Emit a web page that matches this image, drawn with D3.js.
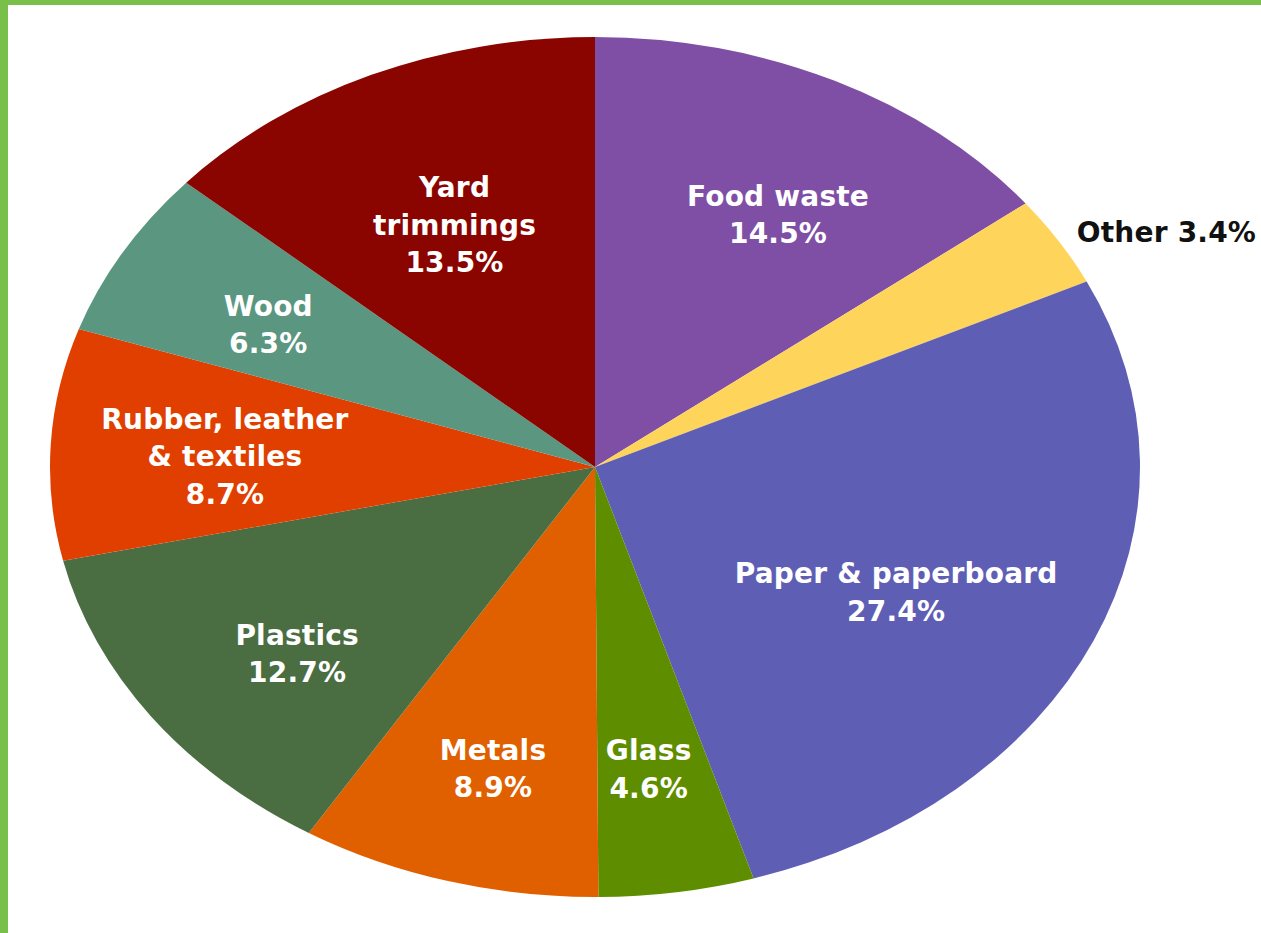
<!DOCTYPE html>
<html>
<head>
<meta charset="utf-8">
<script src="https://cdn.jsdelivr.net/npm/d3@7"></script>
<style>
  html, body { margin: 0; padding: 0; background: #ffffff; }
  svg { display: block; }
</style>
</head>
<body>
<script>
// ---- data ----
const categories = ["Food waste", "Other", "Paper & paperboard", "Glass", "Metals",
                    "Plastics", "Rubber, leather & textiles", "Wood", "Yard trimmings"];
const values = [14.5, 3.4, 27.4, 4.6, 8.9, 12.7, 8.7, 6.3, 13.5];
const labelLines = [
  ["Food waste", "14.5%"],
  ["Other 3.4%"],
  ["Paper & paperboard", "27.4%"],
  ["Glass", "4.6%"],
  ["Metals", "8.9%"],
  ["Plastics", "12.7%"],
  ["Rubber, leather", "& textiles", "8.7%"],
  ["Wood", "6.3%"],
  ["Yard", "trimmings", "13.5%"]
];
const colors = ["#7f4fa5", "#ffd45a", "#5f5eb5", "#5e8e00", "#e06000",
                "#4a6e42", "#e03f00", "#5a9680", "#8b0500"];

// ---- layout / style ----
const W = 1261, H = 933;
const cx = 595, cy = 467, rx = 545, ry = 430;
const labelR = 0.68;
const outside = [false, true, false, false, false, false, false, false, false];
const nudges = [[20, 10], [18, -9], [-38, 7], [-2, 13], [-2, 20], [4, 17], [0, 5], [-6, 4], [12, 24]];
const lineH = 37.5;

const svg = d3.select("body").append("svg").attr("width", W).attr("height", H);
svg.append("rect").attr("width", W).attr("height", H).attr("fill", "#ffffff");

// frame
svg.append("rect").attr("x", 0).attr("y", 0).attr("width", W).attr("height", 5).attr("fill", "#79c04a");
svg.append("rect").attr("x", 0).attr("y", 0).attr("width", 8).attr("height", H).attr("fill", "#79c04a");

const pie = d3.pie().sort(null).value(d => d)(values);
const arc = d3.arc().innerRadius(0).outerRadius(ry);

const g = svg.append("g").attr("transform", `translate(${cx},${cy}) scale(${rx / ry},1)`);
g.selectAll("path").data(pie).join("path")
  .attr("d", arc)
  .attr("fill", (d, i) => colors[i]);

// labels
const lg = svg.append("g").attr("transform", `translate(${cx},${cy})`);
pie.forEach((d, i) => {
  const a = (d.startAngle + d.endAngle) / 2;
  const r = outside[i] ? 1.0 : labelR;
  const x = Math.sin(a) * rx * r + nudges[i][0];
  const y = -Math.cos(a) * ry * r + nudges[i][1];
  const lines = labelLines[i];
  const t = lg.append("text")
    .attr("x", x).attr("y", y)
    .attr("text-anchor", outside[i] ? "start" : "middle")
    .attr("font-family", "'DejaVu Sans', sans-serif")
    .attr("font-weight", "bold")
    .attr("font-size", 28)
    .attr("letter-spacing", 0.2)
    .attr("fill", outside[i] ? "#111111" : "#ffffff");
  lines.forEach((ln, j) => {
    t.append("tspan")
      .attr("x", x)
      .attr("y", y + (j - (lines.length - 1) / 2) * lineH)
      .attr("dy", "0.36em")
      .text(ln);
  });
});
</script>
</body>
</html>
